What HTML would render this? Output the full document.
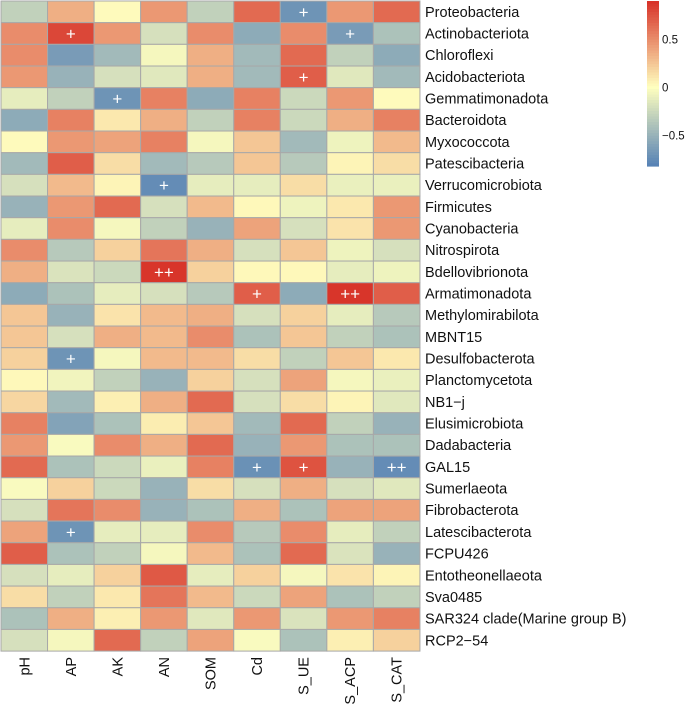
<!DOCTYPE html>
<html><head><meta charset="utf-8"><style>
body{margin:0;background:#fff;}
svg text{font-family:"Liberation Sans",sans-serif;}
</style></head><body>
<svg id="chart" width="685" height="705" xmlns="http://www.w3.org/2000/svg"></svg>
<script>
const rowNames=["Proteobacteria","Actinobacteriota","Chloroflexi","Acidobacteriota","Gemmatimonadota","Bacteroidota","Myxococcota","Patescibacteria","Verrucomicrobiota","Firmicutes","Cyanobacteria","Nitrospirota","Bdellovibrionota","Armatimonadota","Methylomirabilota","MBNT15","Desulfobacterota","Planctomycetota","NB1\u2212j","Elusimicrobiota","Dadabacteria","GAL15","Sumerlaeota","Fibrobacterota","Latescibacterota","FCPU426","Entotheonellaeota","Sva0485","SAR324 clade(Marine group B)","RCP2\u221254"];
const colNames=["pH","AP","AK","AN","SOM","Cd","S_UE","S_ACP","S_CAT"];
const values=[
[-0.3,0.35,0.02,0.45,-0.3,0.65,-0.7,0.45,0.65],
[0.5,0.8,0.45,-0.2,0.5,-0.55,0.5,-0.65,-0.4],
[0.5,-0.65,-0.45,-0.05,0.35,-0.45,0.65,-0.3,-0.55],
[0.45,-0.5,-0.2,-0.15,0.35,-0.45,0.7,-0.15,-0.45],
[-0.12,-0.3,-0.7,0.55,-0.55,0.55,-0.25,0.45,0.02],
[-0.55,0.55,0.1,0.35,-0.3,0.55,-0.25,0.35,0.55],
[0.02,0.45,0.4,0.55,-0.05,0.25,-0.45,-0.08,0.3],
[-0.45,0.7,0.15,-0.45,-0.35,0.25,-0.35,0.05,0.15],
[-0.2,0.3,0.05,-0.75,-0.12,-0.12,0.15,-0.1,-0.1],
[-0.5,0.45,0.65,-0.2,0.3,0.03,-0.08,0.1,0.45],
[-0.12,0.5,-0.05,-0.3,-0.5,0.4,-0.2,0.12,0.45],
[0.5,-0.35,0.2,0.6,0.35,-0.2,0.25,-0.08,-0.2],
[0.35,-0.18,-0.25,0.88,0.2,0.03,0.03,-0.12,-0.08],
[-0.55,-0.4,-0.12,-0.2,-0.35,0.7,-0.55,0.88,0.7],
[0.25,-0.5,0.12,0.3,0.35,-0.2,0.2,-0.12,-0.35],
[0.25,-0.2,0.35,0.3,0.5,-0.4,0.25,-0.3,-0.4],
[0.2,-0.7,-0.05,0.3,0.3,0.15,-0.3,0.25,0.1],
[0.03,-0.07,-0.3,-0.5,0.2,-0.2,0.4,-0.05,-0.1],
[0.18,-0.45,0.07,0.35,0.65,-0.2,0.15,0.05,-0.15],
[0.55,-0.6,-0.4,0.08,0.25,-0.45,0.65,-0.3,-0.5],
[0.45,-0.03,0.5,0.35,0.65,-0.5,0.45,-0.4,-0.4],
[0.65,-0.4,-0.25,-0.1,0.55,-0.72,0.75,-0.5,-0.75],
[-0.03,0.2,-0.25,-0.5,0.15,-0.2,0.35,-0.2,-0.15],
[-0.2,0.6,0.5,-0.5,-0.4,0.35,-0.4,0.4,0.4],
[0.4,-0.7,-0.12,-0.12,0.5,-0.35,0.5,-0.12,-0.3],
[0.7,-0.4,-0.3,-0.05,0.3,-0.4,0.65,-0.18,-0.5],
[-0.2,-0.12,0.2,0.72,-0.12,0.2,-0.05,0.12,0.05],
[0.15,-0.3,0.1,0.6,0.3,-0.25,0.4,-0.4,-0.3],
[-0.4,0.35,0.07,0.45,-0.15,0.45,-0.18,0.45,0.55],
[-0.2,-0.05,0.65,-0.3,0.4,-0.03,-0.4,0.07,0.2]
];
const marks=[[0,6,"+"],[1,1,"+"],[1,7,"+"],[3,6,"+"],[4,2,"+"],[8,3,"+"],[12,3,"++"],[13,5,"+"],[13,7,"++"],[16,1,"+"],[21,5,"+"],[21,6,"+"],[21,8,"++"],[24,1,"+"]];
const cbTicks=[0.5,0,-0.5];

const NS="http://www.w3.org/2000/svg";
const svg=document.getElementById("chart");
const x0=1,y0=1,cw=46.55,ch=21.67;
const xPos=c=>x0+c*cw, yPos=r=>y0+r*ch;
function mix(a,b,t){return a.map((v,i)=>Math.round(v+(b[i]-v)*t));}
const BLUE=[69,117,180],MID=[255,255,191],RED=[215,48,39];
function color(v){v=Math.max(-0.9,Math.min(0.9,v));const c=v<0?mix(MID,BLUE,-v/0.9):mix(MID,RED,v/0.9);return `rgb(${c})`;}
function el(tag,attrs){const e=document.createElementNS(NS,tag);for(const k in attrs)e.setAttribute(k,attrs[k]);svg.appendChild(e);return e;}

values.forEach((row,r)=>row.forEach((v,c)=>{
  const e=el("rect",{x:xPos(c),y:yPos(r),width:cw,height:ch,fill:color(v),stroke:"#a8a8a8","stroke-width":1});
  
  
}));
marks.forEach(m=>{
  const t=el("text",{x:xPos(m[1])+cw/2,y:yPos(m[0])+ch/2+6,"text-anchor":"middle","font-size":17,fill:"#fff"});
  t.textContent=m[2];
  
  
});
rowNames.forEach((n,r)=>{
  const t=el("text",{x:425,y:yPos(r)+ch/2+5,"font-size":14.5,fill:"#111"});
  t.textContent=n;
  
  
});
colNames.forEach((n,c)=>{
  const cx=xPos(c)+cw/2+5;
  const t=el("text",{x:cx,y:657,"font-size":14.5,fill:"#111","text-anchor":"end",transform:`rotate(-90 ${cx} 657)`});
  t.textContent=n;
  
  
});
const cbX=647,cbW=12,cbTop=1,cbBot=166,cbMax=0.9,cbMin=-0.82;
const cbY=v=>cbTop+(cbMax-v)/(cbMax-cbMin)*(cbBot-cbTop);
const N=60;
for(let i=0;i<N;i++){
  const v=cbMax-(i+0.5)*(cbMax-cbMin)/N;
  const e=el("rect",{x:cbX,y:cbTop+i*(cbBot-cbTop)/N,width:cbW,height:(cbBot-cbTop)/N+0.6,fill:color(v)});
  
  
}
cbTicks.forEach(v=>{
  const t=el("text",{x:662,y:cbY(v)+4,"font-size":11.5,fill:"#111"});
  t.textContent=v<0?"\u2212"+Math.abs(v):String(v);
  
  
});
</script>
</body></html>
